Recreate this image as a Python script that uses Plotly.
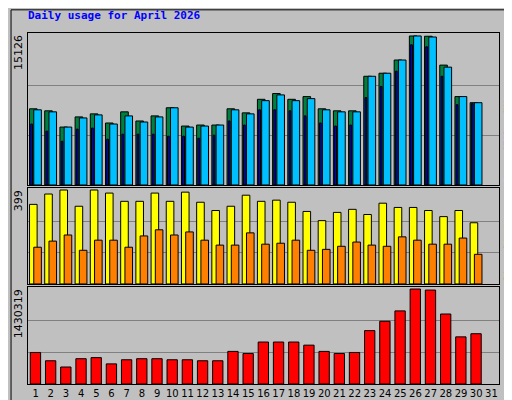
import plotly.graph_objects as go

days = list(range(1, 32))
day_labels = [str(d) for d in days]
weekend_days = [4, 5, 11, 12, 18, 19, 25, 26]

hits = [7735, 7529, 5879, 6910, 7220, 6291, 7426, 6498, 7013, 7838, 5982, 6085, 6085, 7735, 7323,
        8698, 9282, 8698, 8973, 7735, 7529, 7529, 11036, 11345, 12686, 15126, 15100, 12170, 8973, 8354]
files = [7632, 7426, 5879, 6807, 7116, 6188, 7013, 6394, 6910, 7838, 5879, 5982, 6085, 7632, 7220,
         8560, 9145, 8560, 8767, 7632, 7426, 7426, 11036, 11345, 12686, 15126, 15023, 11964, 8973, 8354]
pages = [6188, 5466, 4435, 5673, 5776, 4641, 5157, 5157, 5157, 4951, 4951, 4744, 5054, 6498, 6085,
         7632, 7632, 7529, 7013, 6291, 5982, 6085, 8870, 10005, 11552, 14233, 14027, 11036, 8148, 8251]
visits = [338, 382, 399, 330, 399, 386, 351, 351, 386, 351, 390, 347, 312, 330, 377,
          351, 356, 347, 308, 269, 304, 317, 295, 343, 325, 325, 312, 286, 312, 260]
sites = [156, 182, 208, 143, 186, 186, 156, 204, 230, 208, 221, 186, 165, 165, 217,
         169, 173, 186, 143, 147, 160, 178, 165, 160, 200, 186, 169, 169, 195, 126]
kbytes = [475000, 350000, 256000, 381000, 397000, 303000, 365000, 381000, 381000, 365000, 365000,
          350000, 350000, 491000, 459000, 632000, 632000, 632000, 585000, 491000, 459000, 475000,
          804000, 945000, 1101000, 1430319, 1414600, 1054000, 710000, 757000]
max_hits, max_visits, max_kb = 15126, 399, 1430319

x = days[:30]
fig = go.Figure()
def bar(y, color, off, w, ax):
    fig.add_trace(go.Bar(x=x, y=y, marker=dict(color=color, line=dict(color="black", width=1)),
                         offset=off, width=w, xaxis=ax[0], yaxis=ax[1], showlegend=False, hoverinfo="skip"))

bar(hits, "#008040", -0.4, 0.5, ("x", "y"))
bar(files, "#00c0ff", -0.12, 0.5, ("x", "y"))
bar(pages, "#0000ff", -0.32, 0.12, ("x", "y"))
bar(visits, "#ffff00", -0.4, 0.5, ("x2", "y2"))
bar(sites, "#ff8000", -0.12, 0.5, ("x2", "y2"))
bar(kbytes, "#ff0000", -0.35, 0.68, ("x3", "y3"))

ticktext = [f'<span style="color:#008040">{d}</span>' if d in weekend_days else d for d in day_labels]
xcommon = dict(range=[0.5, 31.5], showline=True, linecolor="black", mirror=True, showgrid=False, zeroline=False)
fig.update_layout(
    width=512, height=400, margin=dict(l=20, r=21, t=25, b=24, autoexpand=False),
    paper_bgcolor="#c0c0c0", plot_bgcolor="#c0c0c0", barmode="overlay",
    font=dict(family="DejaVu Sans Mono", size=11, color="black"),
    xaxis=dict(xcommon, domain=[0, 1], anchor="y", showticklabels=False, ticks=""),
    xaxis2=dict(xcommon, domain=[0, 1], anchor="y2", showticklabels=False, ticks=""),
    xaxis3=dict(xcommon, domain=[0, 1], anchor="y3", tickvals=days, ticktext=ticktext, ticks="",
                tickangle=0, tickfont=dict(family="DejaVu Sans", size=10)),
)
for name, dom, mx in [("yaxis", [0.567, 1], max_hits), ("yaxis2", [0.285, 0.558], max_visits), ("yaxis3", [0, 0.276], max_kb)]:
    fig.layout[name] = dict(domain=dom, range=[0, mx * 1.02], tickvals=[mx / 3, 2 * mx / 3], showticklabels=False,
                            gridcolor="#808080", showline=True, linecolor="black", mirror=True, zeroline=False, ticks="")

def vtext(xp, yp, txt, anchor="top"):
    fig.add_annotation(x=xp, y=yp, xref="paper", yref="paper", text=txt, showarrow=False, textangle=-90,
                       xanchor="center", yanchor=anchor, font=dict(family="DejaVu Sans", size=11))
vtext(-0.02, 1.0, str(max_hits))
vtext(-0.02, 0.558, str(max_visits))
vtext(-0.02, 0.276, str(max_kb))
fs = dict(family="DejaVu Sans Mono", size=10)
fig.add_annotation(x=1.021, y=0.567, xref="paper", yref="paper", showarrow=False, textangle=-90, xanchor="center", yanchor="bottom",
                   text='<span style="color:#00c0ff">Pages</span>/<span style="color:#0000ff">Files</span>/<span style="color:#008040">Hits</span>',
                   font=fs)
fig.add_annotation(x=1.021, y=0.285, xref="paper", yref="paper", showarrow=False, textangle=-90, xanchor="center", yanchor="bottom",
                   text='<span style="color:#ff8000">Sites</span>/<span style="color:#e0e000">Visits</span>', font=fs)
fig.add_annotation(x=1.021, y=0.0, xref="paper", yref="paper", showarrow=False, textangle=-90, xanchor="center", yanchor="bottom",
                   text='<span style="color:#ff0000">KBytes</span>', font=fs)
fig.add_annotation(x=-0.005, y=1.05, xref="paper", yref="paper", showarrow=False, xanchor="left", yanchor="middle",
                   text="<b>Daily usage for April 2026</b>", font=dict(family="DejaVu Sans Mono", size=11, color="#0000ff"))
fig.add_shape(type="rect", xref="paper", yref="paper", x0=-0.036, x1=1.036, y0=-0.063, y1=1.066,
              line=dict(color="black", width=1))
fig.write_html("out.html")
